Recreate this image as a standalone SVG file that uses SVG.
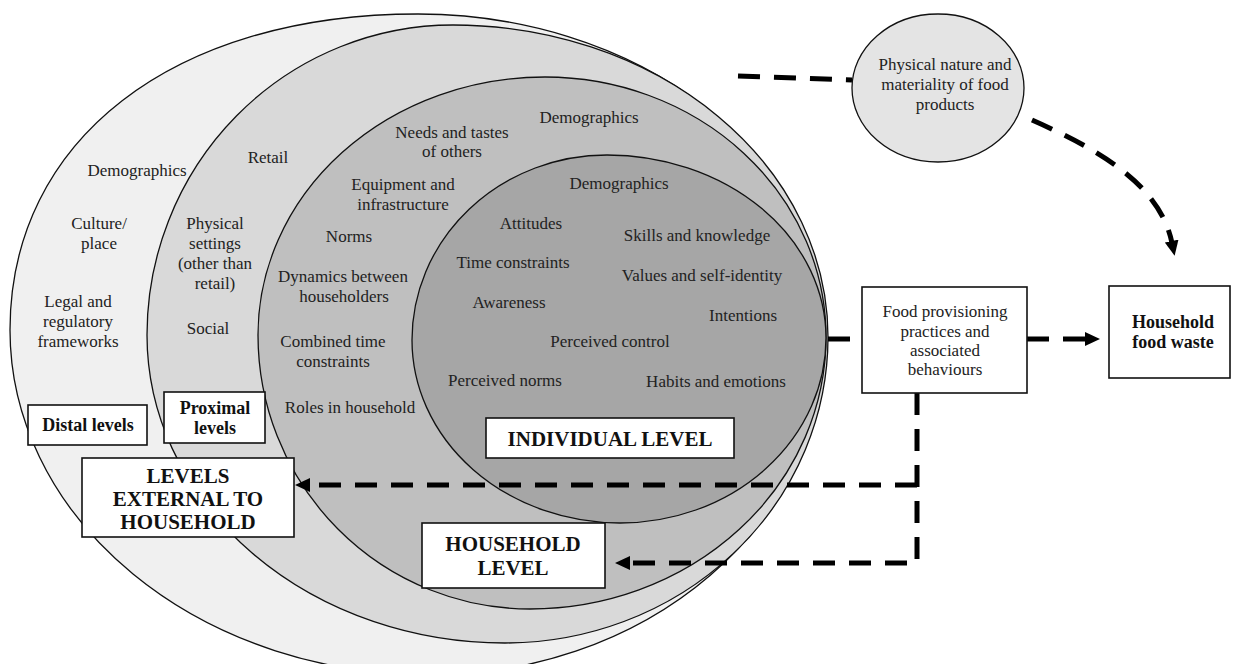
<svg xmlns="http://www.w3.org/2000/svg" width="1234" height="664" viewBox="0 0 1234 664">
  <style>
    .ring { stroke: #111; stroke-width: 1.3; }
    .t { font-family: "Liberation Serif", "DejaVu Serif", serif; font-size: 17px; fill: #222; text-anchor: middle; }
    .b { font-family: "Liberation Serif", "DejaVu Serif", serif; font-weight: bold; fill: #111; text-anchor: middle; }
    .box { fill: #fff; stroke: #111; stroke-width: 1.6; }
    .dash { fill: none; stroke: #000; stroke-width: 5; stroke-dasharray: 22 14; }
  </style>
  <defs>
    <marker id="head" markerUnits="userSpaceOnUse" viewBox="0 0 15 14" markerWidth="15" markerHeight="14" refX="2" refY="7" orient="auto">
      <path d="M0,0 L15,7 L0,14 Z" fill="#000"/>
    </marker>
  </defs>

  <rect width="1234" height="664" fill="#fff"/>

  <!-- nested levels, outermost first -->
  <g id="distal-levels">
    <path class="ring" fill="#f0f0f0" d="M10,330 C10,140 173,14 418,14 A408,321 0 0 1 826,335 A396,340 0 0 1 430,675 A420,345 0 0 1 10,330 Z"/>
    <text class="t" x="137" y="176">Demographics</text>
    <text class="t" x="99" y="229">Culture/</text>
    <text class="t" x="99" y="249">place</text>
    <text class="t" x="78" y="307">Legal and</text>
    <text class="t" x="78" y="327">regulatory</text>
    <text class="t" x="78" y="347">frameworks</text>
  </g>

  <g id="proximal-levels">
    <path class="ring" fill="#d9d9d9" d="M147,335 A306,310 0 0 1 453,25 A375,312 0 0 1 828,337 A323,306 0 0 1 505,643 A358,308 0 0 1 147,335 Z"/>
    <text class="t" x="268" y="163">Retail</text>
    <text class="t" x="215" y="229">Physical</text>
    <text class="t" x="215" y="249">settings</text>
    <text class="t" x="215" y="269">(other than</text>
    <text class="t" x="215" y="289">retail)</text>
    <text class="t" x="208" y="334">Social</text>
  </g>

  <g id="household-level">
    <path class="ring" fill="#bfbfbf" d="M258,335 A287,258 0 0 1 545,77 A281,260 0 0 1 826,337 A296,272 0 0 1 530,609 A272,274 0 0 1 258,335 Z"/>
    <text class="t" x="452" y="138">Needs and tastes</text>
    <text class="t" x="452" y="157">of others</text>
    <text class="t" x="589" y="123">Demographics</text>
    <text class="t" x="403" y="190">Equipment and</text>
    <text class="t" x="403" y="210">infrastructure</text>
    <text class="t" x="349" y="242">Norms</text>
    <text class="t" x="343" y="282">Dynamics between</text>
    <text class="t" x="344" y="302">householders</text>
    <text class="t" x="333" y="347">Combined time</text>
    <text class="t" x="333" y="367">constraints</text>
    <text class="t" x="350" y="413">Roles in household</text>
  </g>

  <g id="individual-level">
    <path class="ring" fill="#a6a6a6" d="M412,340 A195,185 0 0 1 607,155 A219,183 0 0 1 826,338 A206,185 0 0 1 620,523 A208,183 0 0 1 412,340 Z"/>
    <text class="t" x="619" y="189">Demographics</text>
    <text class="t" x="531" y="229">Attitudes</text>
    <text class="t" x="697" y="241">Skills and knowledge</text>
    <text class="t" x="513" y="268">Time constraints</text>
    <text class="t" x="702" y="281">Values and self-identity</text>
    <text class="t" x="509" y="308">Awareness</text>
    <text class="t" x="743" y="321">Intentions</text>
    <text class="t" x="610" y="347">Perceived control</text>
    <text class="t" x="505" y="386">Perceived norms</text>
    <text class="t" x="716" y="387">Habits and emotions</text>
  </g>

  <!-- connectors -->
  <g id="connectors">
    <path class="dash" d="M738,76 L852,80"/>
    <path class="dash" d="M1032,120 C1100,150 1160,185 1172,243" marker-end="url(#head)"/>
    <path class="dash" d="M828,339 L862,339"/>
    <path class="dash" d="M1027,339 L1087,339" marker-end="url(#head)"/>
    <path class="dash" d="M917,393 L917,563 L628,563" marker-end="url(#head)"/>
    <path class="dash" d="M917,485 L308,485" marker-end="url(#head)"/>
  </g>

  <!-- level labels -->
  <g id="label-distal">
    <rect class="box" x="28" y="405" width="119" height="40"/>
    <text class="b" font-size="18" x="88" y="431">Distal levels</text>
  </g>
  <g id="label-proximal">
    <rect class="box" x="164" y="392" width="101" height="51"/>
    <text class="b" font-size="18" x="215" y="414">Proximal</text>
    <text class="b" font-size="18" x="215" y="434">levels</text>
  </g>
  <g id="label-external">
    <rect class="box" x="82" y="458" width="212" height="79"/>
    <text class="b" font-size="21" x="188" y="483">LEVELS</text>
    <text class="b" font-size="21" x="188" y="506">EXTERNAL TO</text>
    <text class="b" font-size="21" x="188" y="529">HOUSEHOLD</text>
  </g>
  <g id="label-individual">
    <rect class="box" x="486" y="418" width="248" height="40"/>
    <text class="b" font-size="21" x="610" y="446">INDIVIDUAL LEVEL</text>
  </g>
  <g id="label-household">
    <rect class="box" x="422" y="523" width="183" height="65"/>
    <text class="b" font-size="21" x="513" y="551">HOUSEHOLD</text>
    <text class="b" font-size="21" x="513" y="575">LEVEL</text>
  </g>

  <g id="food-products">
    <ellipse cx="938" cy="88" rx="86" ry="74" fill="#e4e4e4" stroke="#111" stroke-width="1.3"/>
    <text class="t" x="945" y="70">Physical nature and</text>
    <text class="t" x="945" y="90">materiality of food</text>
    <text class="t" x="945" y="110">products</text>
  </g>

  <g id="provisioning">
    <rect class="box" x="862" y="287" width="165" height="106"/>
    <text class="t" x="945" y="317">Food provisioning</text>
    <text class="t" x="945" y="337">practices and</text>
    <text class="t" x="945" y="356">associated</text>
    <text class="t" x="945" y="375">behaviours</text>
  </g>

  <g id="food-waste">
    <rect class="box" x="1109" y="286" width="121" height="92"/>
    <text class="b" font-size="18" x="1173" y="328">Household</text>
    <text class="b" font-size="18" x="1173" y="348">food waste</text>
  </g>
</svg>
